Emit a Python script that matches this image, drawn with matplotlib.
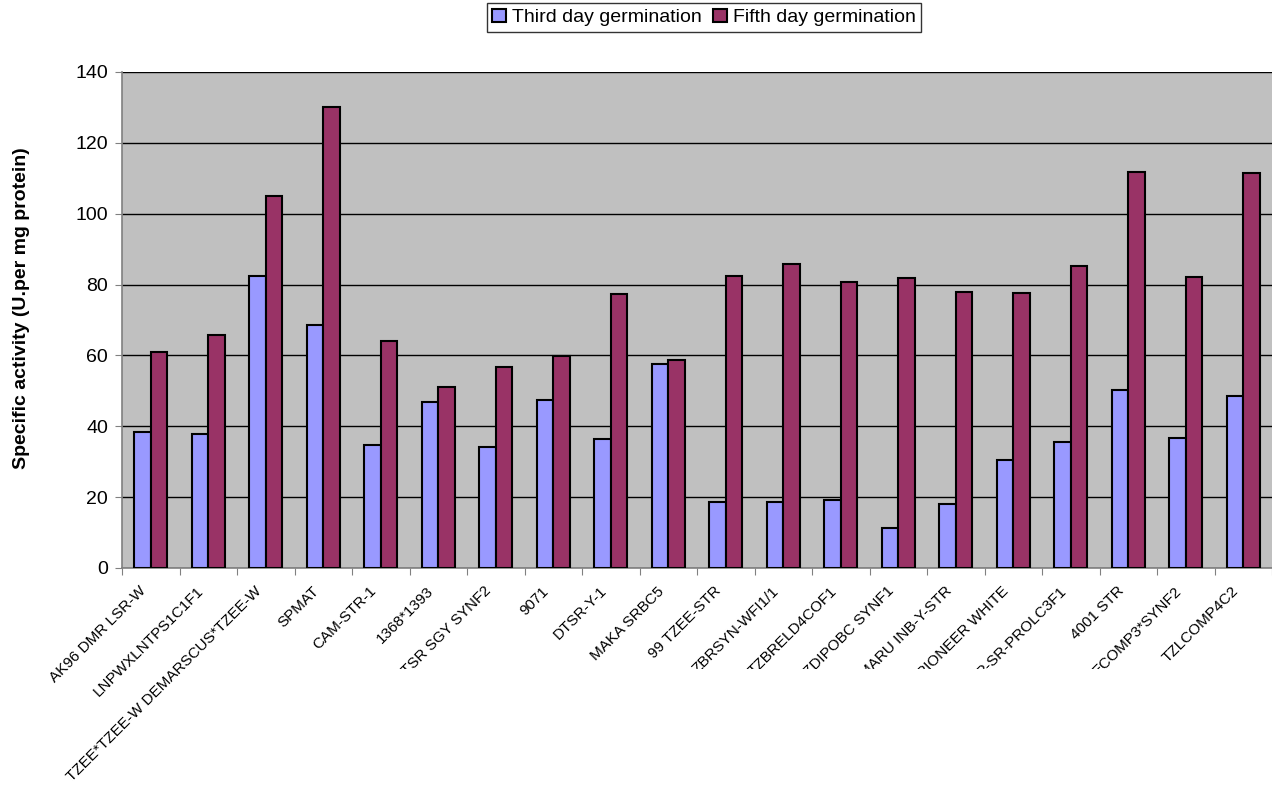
import numpy as np
import matplotlib
matplotlib.use('Agg')
import matplotlib.pyplot as plt
from matplotlib.transforms import Bbox

plt.rcParams['font.family'] = ['Liberation Sans', 'DejaVu Sans']

varieties = ['AK96 DMR LSR-W', 'LNPWXLNTPS1C1F1', 'TZEE*TZEE-W DEMARSCUS*TZEE-W',
             'SPMAT', 'CAM-STR-1', '1368*1393', 'TSR SGY SYNF2', '9071', 'DTSR-Y-1',
             'MAKA SRBC5', '99 TZEE-STR', 'ZBRSYN-WFI1/1', 'TZBRELD4COF1',
             'ZDIPOBC SYNF1', 'MARU INB-Y-STR', 'PIONEER WHITE', 'R-SR-PROLC3F1',
             '4001 STR', 'ECOMP3*SYNF2', 'TZLCOMP4C2']
third_day = [38.3, 37.8, 82.5, 68.6, 34.7, 46.9, 34.1, 47.4, 36.4, 57.5,
             18.6, 18.6, 19.2, 11.3, 18.2, 30.5, 35.5, 50.3, 36.8, 48.5]
fifth_day = [60.9, 65.7, 105.0, 130.2, 64.1, 51.0, 56.7, 59.8, 77.4, 58.7,
             82.5, 85.7, 80.6, 81.8, 77.8, 77.7, 85.2, 111.8, 82.1, 111.5]

fig = plt.figure(figsize=(12.72, 7.86), dpi=100)
ax = fig.add_axes([122 / 1272, 218 / 786, 1150 / 1272, 496 / 786])
ax.set_facecolor('#C0C0C0')

x = np.arange(len(varieties))
w = 1 / 3.5
ax.bar(x - w / 2, third_day, w, color='#9999FF', edgecolor='black', linewidth=1.5,
       label='Third day germination', zorder=3)
ax.bar(x + w / 2, fifth_day, w, color='#993366', edgecolor='black', linewidth=1.5,
       label='Fifth day germination', zorder=3)

ax.set_xlim(-0.5, len(varieties) - 0.5)
ax.set_ylim(0, 140)
ax.set_yticks(range(0, 141, 20))
ax.yaxis.grid(True, color='black', linewidth=1, zorder=1)
ax.tick_params(axis='y', labelsize=14, length=5, color='#808080', pad=5)

# category boundaries carry the ticks, names sit just left of centre
ax.set_xticks(np.arange(-0.5, len(varieties), 1))
ax.set_xticklabels([])
ax.tick_params(axis='x', length=5, color='#808080')
ax.set_xticks(x - 0.2, minor=True)
ax.set_xticklabels(varieties, minor=True, rotation=45, ha='right', va='top',
                   rotation_mode='anchor', fontsize=11)
ax.tick_params(axis='x', which='minor', length=0, pad=11.5)

# long names get cut off below a fixed line
clip = Bbox.from_extents(0, 786 - 669, 1272, 786)
for i, t in enumerate(ax.get_xticklabels(minor=True)):
    if i >= 3:
        t.set_clip_box(clip)
        t.set_clip_on(True)

for s in ['top', 'right']:
    ax.spines[s].set_visible(False)
for s in ['left', 'bottom']:
    ax.spines[s].set_color('#808080')
    ax.spines[s].set_linewidth(1.2)

ax.set_ylabel('Specific activity (U.per mg protein)', fontsize=14, fontweight='bold')
ax.yaxis.set_label_coords(-0.080, 0.524)

fig.legend(loc='upper center', bbox_to_anchor=(704 / 1272, 1 - 3 / 786), ncol=2,
           fontsize=14, frameon=True, fancybox=False, edgecolor='black',
           handlelength=0.7, handleheight=0.7, handletextpad=0.3,
           columnspacing=0.6, borderpad=0.3, borderaxespad=0)
fig.legends[0].get_frame().set_linewidth(1)

fig.savefig('out.png', dpi=100)
